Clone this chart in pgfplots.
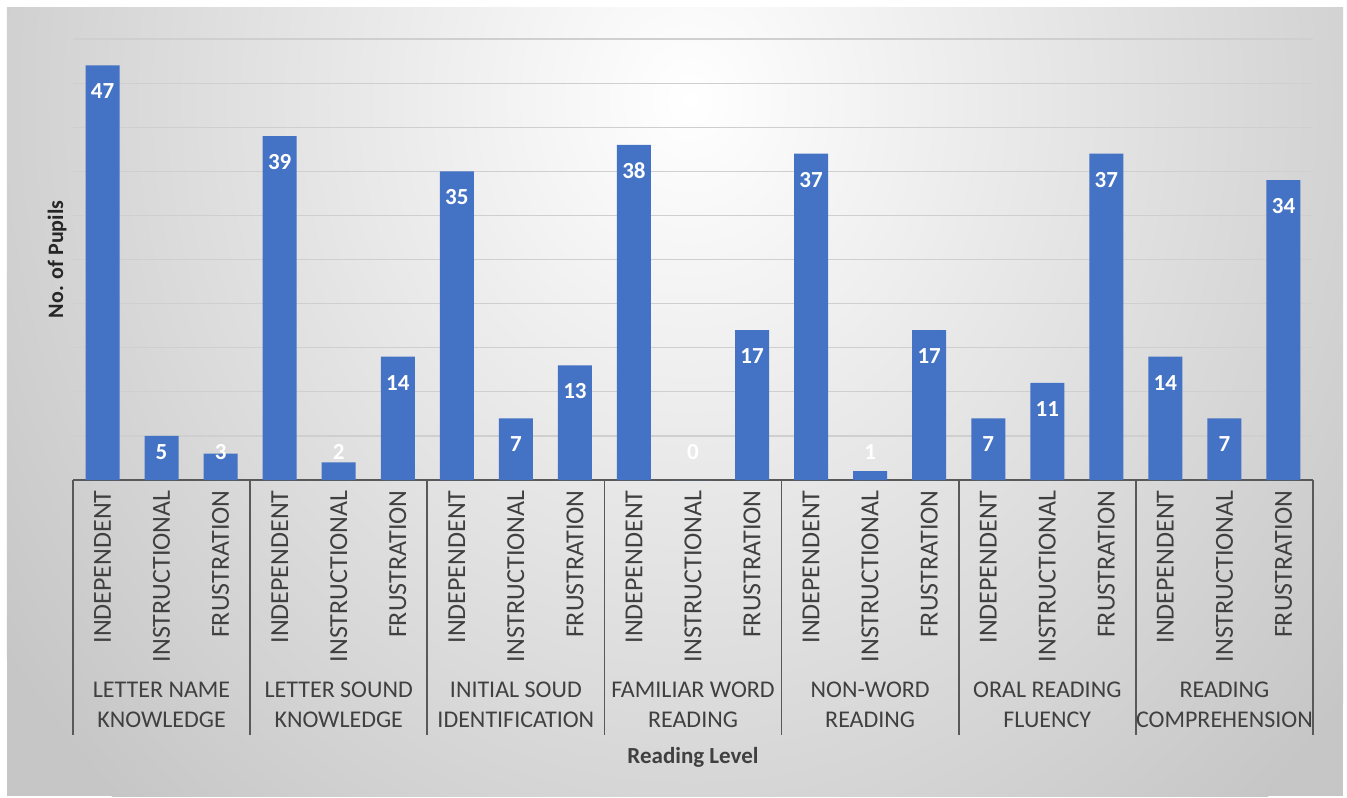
\documentclass[border=0pt]{standalone}
\usepackage{pgfplots}
\pgfplotsset{compat=1.18}
\usepackage{pgfplotstable}
\usepackage{fontspec}
\setmainfont{Carlito}
\definecolor{barblue}{HTML}{4472C4}
\definecolor{txt}{HTML}{404040}
\definecolor{sepline}{HTML}{595959}
\definecolor{bgout}{RGB}{198,198,198}
\pgfplotstableread{
x y lab
0 47 44.05
1 5 3.2
2 3 3.2
3 39 36.05
4 2 3.2
5 14 11.05
6 35 32.05
7 7 4.05
8 13 10.05
9 38 35.05
10 0 3.2
11 17 14.05
12 37 34.05
13 1 3.2
14 17 14.05
15 7 4.05
16 11 8.05
17 37 34.05
18 14 11.05
19 7 4.05
20 34 31.05
}\data
\begin{document}
\begin{tikzpicture}
\fill[white, use as bounding box] (-36.5pt,-158.5pt) rectangle (637pt,240pt);
\begin{scope}
\clip (-33pt,-158pt) rectangle (635pt,236pt);
\fill[bgout] (-33pt,-158pt) rectangle (635pt,236pt);
\shade[inner color=white, outer color=bgout] (308.5pt,190pt) ellipse (420pt and 480pt);
\end{scope}
\begin{axis}[
  at={(0pt,0pt)}, anchor=south west,
  scale only axis, width=620pt, height=220.5pt,
  xmin=-0.5, xmax=20.5, ymin=0, ymax=50,
  clip=false,
  /pgf/number format/assume math mode=true,
  ytick={0,5,...,50}, yticklabels={},
  ymajorgrids, grid style={draw=gray!38, line width=0.6pt},
  axis x line*=bottom, axis y line*=left,
  y axis line style={draw=none},
  x axis line style={draw=sepline, line width=0.8pt},
  ytick style={draw=none}, xtick style={draw=none},
  xtick={0,...,20},
  xticklabels={INDEPENDENT,INSTRUCTIONAL,FRUSTRATION,INDEPENDENT,INSTRUCTIONAL,FRUSTRATION,INDEPENDENT,INSTRUCTIONAL,FRUSTRATION,INDEPENDENT,INSTRUCTIONAL,FRUSTRATION,INDEPENDENT,INSTRUCTIONAL,FRUSTRATION,INDEPENDENT,INSTRUCTIONAL,FRUSTRATION,INDEPENDENT,INSTRUCTIONAL,FRUSTRATION},
  xticklabel shift=5pt,
  xticklabel style={rotate=90, anchor=east, inner sep=0pt, font=\fontsize{13}{15}\selectfont, text=txt},
  xlabel={Reading Level},
  xlabel style={at={(axis description cs:0.5,-0.628)}, anchor=center, font=\bfseries\fontsize{11.5}{14}\selectfont, text=txt},
  ylabel={No. of Pupils},
  ylabel style={at={(axis description cs:-0.0129,0.5)}, anchor=center, font=\bfseries\fontsize{11}{14}\selectfont, text=black!85},
]
\addplot[ybar, bar width=17pt, fill=barblue, draw=none] table[x=x, y=y] {\data};
\addplot[only marks, mark=none, nodes near coords, point meta=explicit,
  nodes near coords style={anchor=center, text=white, font=\bfseries\fontsize{11.5}{12}\selectfont}]
  table[x=x, y=lab, meta=y] {\data};
\draw[sepline, line width=0.8pt] (axis cs:-0.5,0) -- ++(0pt,-127.5pt);
\draw[sepline, line width=0.8pt] (axis cs:2.5,0) -- ++(0pt,-127.5pt);
\draw[sepline, line width=0.8pt] (axis cs:5.5,0) -- ++(0pt,-127.5pt);
\draw[sepline, line width=0.8pt] (axis cs:8.5,0) -- ++(0pt,-127.5pt);
\draw[sepline, line width=0.8pt] (axis cs:11.5,0) -- ++(0pt,-127.5pt);
\draw[sepline, line width=0.8pt] (axis cs:14.5,0) -- ++(0pt,-127.5pt);
\draw[sepline, line width=0.8pt] (axis cs:17.5,0) -- ++(0pt,-127.5pt);
\draw[sepline, line width=0.8pt] (axis cs:20.5,0) -- ++(0pt,-127.5pt);
\tikzset{grp/.style={anchor=center, align=center, text=txt, font=\fontsize{12}{15}\selectfont, inner sep=0pt}}
\node[grp] at ([yshift=-112.5pt]axis cs:1,0) {LETTER NAME\\KNOWLEDGE};
\node[grp] at ([yshift=-112.5pt]axis cs:4,0) {LETTER SOUND\\KNOWLEDGE};
\node[grp] at ([yshift=-112.5pt]axis cs:7,0) {INITIAL SOUD\\IDENTIFICATION};
\node[grp] at ([yshift=-112.5pt]axis cs:10,0) {FAMILIAR WORD\\READING};
\node[grp] at ([yshift=-112.5pt]axis cs:13,0) {NON-WORD\\READING};
\node[grp] at ([yshift=-112.5pt]axis cs:16,0) {ORAL READING\\FLUENCY};
\node[grp] at ([yshift=-112.5pt]axis cs:19,0) {READING\\COMPREHENSION};
\end{axis}
\end{tikzpicture}
\end{document}
